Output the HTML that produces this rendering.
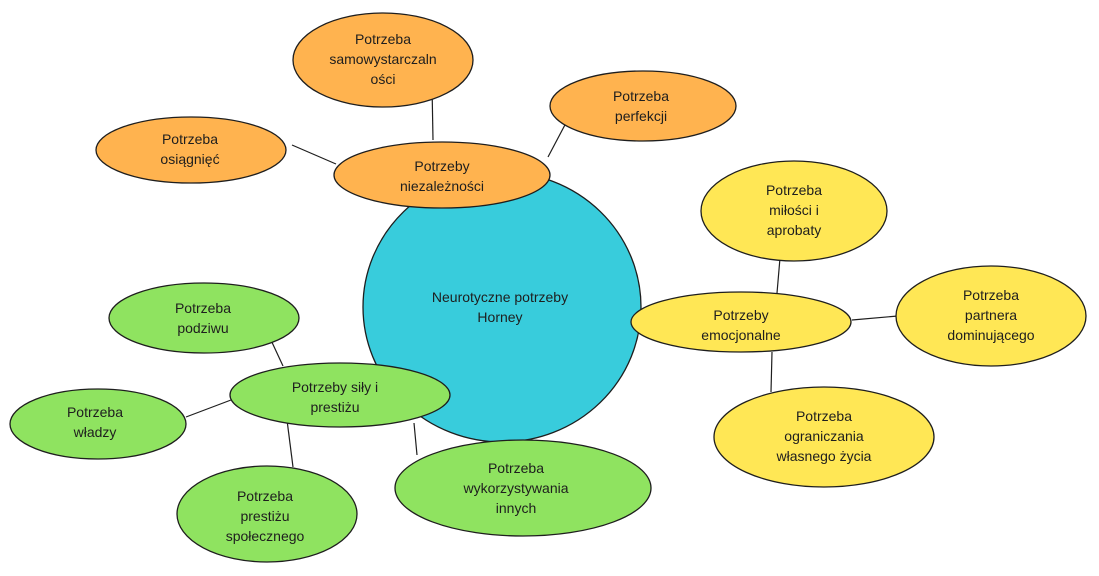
<!DOCTYPE html>
<html><head><meta charset="utf-8"><style>
html,body{margin:0;padding:0;background:#fff;}
svg{display:block}
text{font-family:"Liberation Sans",sans-serif;font-size:14px;fill:#1e1e1e;text-anchor:middle}
</style></head><body>
<svg width="1099" height="576" viewBox="0 0 1099 576" xmlns="http://www.w3.org/2000/svg">
<g stroke="#1e1e1e" stroke-width="1.2" fill="none">
<line x1="432" y1="85" x2="433" y2="140"/>
<line x1="292" y1="145" x2="336" y2="164"/>
<line x1="567" y1="121" x2="548" y2="157"/>
<line x1="780" y1="258" x2="777" y2="293"/>
<line x1="852" y1="320" x2="898" y2="316"/>
<line x1="772" y1="352" x2="771" y2="392"/>
<line x1="270" y1="338" x2="283" y2="366"/>
<line x1="186" y1="417" x2="231" y2="400"/>
<line x1="287" y1="420" x2="293" y2="467"/>
<line x1="414" y1="423" x2="417" y2="455"/>
</g>
<g stroke="#1e1e1e" stroke-width="1.3">
<ellipse cx="502" cy="307" rx="139" ry="135" fill="#38CCDC"/>
<ellipse cx="383" cy="60" rx="90" ry="47" fill="#FFB34F"/>
<ellipse cx="643" cy="106" rx="93" ry="35" fill="#FFB34F"/>
<ellipse cx="191" cy="150" rx="95" ry="33" fill="#FFB34F"/>
<ellipse cx="442" cy="175" rx="108" ry="33" fill="#FFB34F"/>
<ellipse cx="794" cy="211" rx="93" ry="50" fill="#FFE755"/>
<ellipse cx="741" cy="322" rx="110" ry="30" fill="#FFE755"/>
<ellipse cx="991" cy="316" rx="95" ry="50" fill="#FFE755"/>
<ellipse cx="824" cy="437" rx="110" ry="50" fill="#FFE755"/>
<ellipse cx="204" cy="318" rx="95" ry="35" fill="#8FE360"/>
<ellipse cx="340" cy="395" rx="110" ry="32" fill="#8FE360"/>
<ellipse cx="98" cy="424" rx="88" ry="35" fill="#8FE360"/>
<ellipse cx="267" cy="514" rx="90" ry="48" fill="#8FE360"/>
<ellipse cx="523" cy="488" rx="128" ry="48" fill="#8FE360"/>
</g>
<text x="500" y="302">Neurotyczne potrzeby</text><text x="500" y="322">Horney</text>
<text x="383" y="44">Potrzeba</text><text x="383" y="64">samowystarczaln</text><text x="383" y="84">ości</text>
<text x="641" y="101">Potrzeba</text><text x="641" y="121">perfekcji</text>
<text x="190" y="144">Potrzeba</text><text x="190" y="164">osiągnięć</text>
<text x="442" y="171">Potrzeby</text><text x="442" y="191">niezależności</text>
<text x="794" y="195">Potrzeba</text><text x="794" y="215">miłości i</text><text x="794" y="235">aprobaty</text>
<text x="741" y="320">Potrzeby</text><text x="741" y="340">emocjonalne</text>
<text x="991" y="300">Potrzeba</text><text x="991" y="320">partnera</text><text x="991" y="340">dominującego</text>
<text x="824" y="421">Potrzeba</text><text x="824" y="441">ograniczania</text><text x="824" y="461">własnego życia</text>
<text x="203" y="313">Potrzeba</text><text x="203" y="333">podziwu</text>
<text x="335" y="392">Potrzeby siły i</text><text x="335" y="412">prestiżu</text>
<text x="95" y="417">Potrzeba</text><text x="95" y="437">władzy</text>
<text x="265" y="501">Potrzeba</text><text x="265" y="521">prestiżu</text><text x="265" y="541">społecznego</text>
<text x="516" y="473">Potrzeba</text><text x="516" y="493">wykorzystywania</text><text x="516" y="513">innych</text>
</svg>
</body></html>
